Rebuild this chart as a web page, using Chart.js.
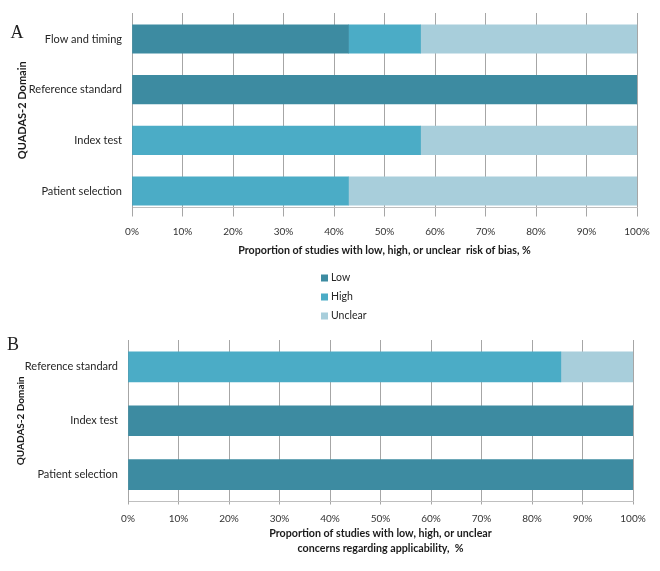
<!DOCTYPE html>
<html>
<head>
<meta charset="utf-8">
<script src="https://cdn.jsdelivr.net/npm/chart.js@4.4.1/dist/chart.umd.min.js"></script>
<style>
html, body { margin: 0; padding: 0; background: #ffffff; }
#wrapA { position: absolute; left: 0; top: 0; width: 660px; height: 330px; }
#wrapB { position: absolute; left: 0; top: 330px; width: 660px; height: 241px; }
</style>
</head>
<body>
<div id="wrapA"><canvas id="chartA" width="660" height="330"></canvas></div>
<div id="wrapB"><canvas id="chartB" width="660" height="241"></canvas></div>
<script>
// ---- data ----
const seriesNames = ['Low', 'High', 'Unclear'];
const seriesColors = ['#3D8BA1', '#4BACC6', '#A8CEDB'];

const categoriesA = ['Flow and timing', 'Reference standard', 'Index test', 'Patient selection'];
const lowA = [42.86, 100, 0, 0];
const highA = [14.28, 0, 57.14, 42.86];
const unclearA = [42.86, 0, 42.86, 57.14];

const categoriesB = ['Reference standard', 'Index test', 'Patient selection'];
const lowB = [0, 100, 100];
const highB = [85.71, 0, 0];
const unclearB = [14.29, 0, 0];

const xTickValues = [0, 10, 20, 30, 40, 50, 60, 70, 80, 90, 100];
const xTickLabels = ['0%', '10%', '20%', '30%', '40%', '50%', '60%', '70%', '80%', '90%', '100%'];

const yTitle = 'QUADAS-2 Domain';
const xTitleA = 'Proportion of studies with low, high, or unclear  risk of bias, %';
const xTitleB = ['Proportion of studies with low, high, or unclear', 'concerns regarding applicability,  %'];
const panelA = 'A';
const panelB = 'B';

// ---- setup ----
Chart.defaults.font.family = 'Lato, "Open Sans", sans-serif';
Chart.defaults.color = '#262626';
Chart.defaults.animation = false;

const gridColor = '#A6A6A6';
const borderColor = '#BFBFBF';
const yRangeA = [-0.513, 3.325];

function panelLetterPlugin(letter, x, y) {
  return {
    id: 'panelLetter' + letter,
    afterDraw(chart) {
      const ctx = chart.ctx;
      ctx.save();
      ctx.font = '18px "Liberation Serif", "DejaVu Serif", serif';
      ctx.fillStyle = '#222222';
      ctx.textAlign = 'center';
      ctx.textBaseline = 'middle';
      ctx.fillText(letter, x, y);
      ctx.restore();
    }
  };
}

const stackedLegendPlugin = {
  id: 'stackedLegend',
  afterDraw(chart) {
    const ctx = chart.ctx;
    ctx.save();
    ctx.font = '10.5px Lato, "Open Sans", sans-serif';
    ctx.textAlign = 'left';
    ctx.textBaseline = 'middle';
    chart.data.datasets.forEach((ds, i) => {
      const y = 278 + i * 19;
      ctx.fillStyle = ds.backgroundColor;
      ctx.fillRect(321, y - 3.5, 7, 7);
      ctx.fillStyle = '#262626';
      ctx.fillText(ds.label, 331, y);
    });
    ctx.restore();
  }
};

function zeroPad(s) { s.paddingTop = 0; s.paddingBottom = 0; s.paddingLeft = 0; s.paddingRight = 0; }

function xScale(title, tickLength, tickPad, height, titleLineHeight) {
  return {
    type: 'linear',
    min: 0,
    max: 100,
    stacked: true,
    afterBuildTicks: s => { s.ticks = xTickValues.map(v => ({ value: v })); },
    afterFit: s => { s.height = height; zeroPad(s); },
    ticks: {
      callback: (v, i) => xTickLabels[i],
      padding: tickPad,
      font: { size: 10 },
      color: '#333333',
      maxRotation: 0,
      autoSkip: false
    },
    grid: { color: gridColor, tickColor: gridColor, tickLength: tickLength, lineWidth: 1 },
    border: { color: borderColor, width: 1 },
    title: {
      display: true,
      text: title,
      font: { size: 10.7, weight: 'bold', lineHeight: titleLineHeight },
      padding: 0,
      color: '#1a1a1a'
    }
  };
}

// ---- chart A ----
const dataA = [lowA, highA, unclearA];
new Chart(document.getElementById('chartA'), {
  type: 'bar',
  data: {
    datasets: seriesNames.map((name, k) => ({
      label: name,
      data: dataA[k].map((v, i) => ({ x: v, y: i })),
      backgroundColor: seriesColors[k],
      borderWidth: 0,
      barThickness: 28.5
    }))
  },
  options: {
    indexAxis: 'y',
    responsive: false,
    maintainAspectRatio: false,
    layout: { padding: { top: 13, right: 23, bottom: 73, left: 0 } },
    plugins: { legend: { display: false }, tooltip: { enabled: false } },
    scales: {
      x: xScale(xTitleA, 9, 9, 49.5, 1.2),
      y: {
        type: 'linear',
        reverse: true,
        min: yRangeA[0],
        max: yRangeA[1],
        offset: false,
        bounds: 'data',
        grace: 0,
        stacked: true,
        afterDataLimits: s => { s.min = yRangeA[0]; s.max = yRangeA[1]; },
        afterBuildTicks: s => {
          s.ticks = categoriesA.map((c, i) => ({ value: i }));
          s.min = yRangeA[0]; s.max = yRangeA[1];
        },
        afterFit: s => { s.width = 132; zeroPad(s); },
        grid: { display: false, drawTicks: false },
        border: { display: true, color: gridColor },
        ticks: { callback: v => categoriesA[v], padding: 10, font: { size: 11 }, color: '#262626', autoSkip: false },
        title: {
          display: true, text: yTitle, font: { size: 11, weight: 'bold' },
          padding: { top: 16, bottom: 0 }, color: '#1a1a1a'
        }
      }
    }
  },
  plugins: [panelLetterPlugin(panelA, 17, 33), stackedLegendPlugin]
});

// ---- chart B ----
const dataB = [lowB, highB, unclearB];
new Chart(document.getElementById('chartB'), {
  type: 'bar',
  data: {
    labels: categoriesB,
    datasets: seriesNames.map((name, k) => ({
      label: name,
      data: dataB[k],
      backgroundColor: seriesColors[k],
      borderWidth: 0,
      barThickness: 30
    }))
  },
  options: {
    indexAxis: 'y',
    responsive: false,
    maintainAspectRatio: false,
    layout: { padding: { top: 10, right: 27, bottom: 15, left: 0 } },
    plugins: { legend: { display: false }, tooltip: { enabled: false } },
    scales: {
      x: xScale(xTitleB, 3, 8.5, 54.5, 1.4),
      y: {
        type: 'category',
        stacked: true,
        afterFit: s => { s.width = 128; zeroPad(s); },
        grid: { display: false, drawTicks: false },
        border: { display: true, color: gridColor },
        ticks: { padding: 10, font: { size: 11 }, color: '#262626', autoSkip: false },
        title: {
          display: true, text: yTitle, font: { size: 10, weight: 'bold' },
          padding: { top: 15, bottom: 0 }, color: '#1a1a1a'
        }
      }
    }
  },
  plugins: [panelLetterPlugin(panelB, 13, 15)]
});
</script>
</body>
</html>
